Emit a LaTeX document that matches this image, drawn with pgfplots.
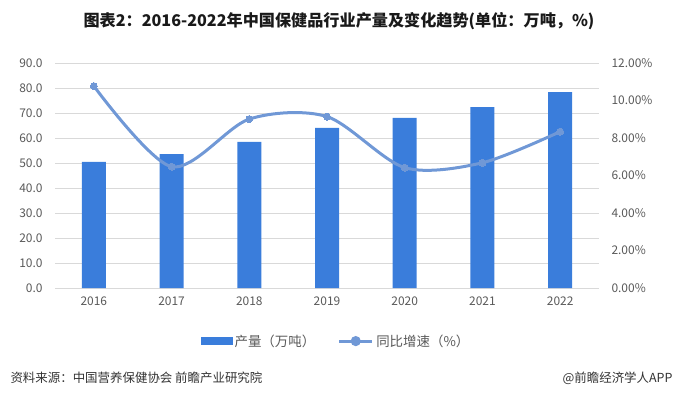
\documentclass[border=0pt]{standalone}
\usepackage{pgfplots}
\pgfplotsset{compat=1.18}
\usepackage{fontspec}
\setmainfont{Noto Sans CJK SC}
\definecolor{barblue}{RGB}{58,125,219}
\definecolor{lineblue}{RGB}{112,152,214}
\definecolor{tickgray}{RGB}{89,89,89}
\definecolor{gridgray}{RGB}{217,217,217}
\pgfplotsset{/pgf/number format/assume math mode=true}
\begin{document}
\begin{tikzpicture}[x=1bp,y=1bp]
\useasboundingbox (0,0) rectangle (676,396);
\node[font=\bfseries\fontsize{16.2}{18}\selectfont, text=black!90] at (339,375) {图表2：2016-2022年中国保健品行业产量及变化趋势(单位：万吨，\%)};
\begin{axis}[
  at={(55bp,108bp)}, anchor=south west, width=544bp, height=225bp, scale only axis,
  xmin=-0.5, xmax=6.5, ymin=0, ymax=90,
  xtick={0,1,2,3,4,5,6}, xticklabels={2016,2017,2018,2019,2020,2021,2022},
  ytick={0,10,20,30,40,50,60,70,80,90},
  ymajorgrids, grid style={gridgray, line width=0.8bp},
  axis line style={draw=none},
  major tick length=0,
  tick label style={font=\fontsize{12}{14}\selectfont, text=tickgray},
  yticklabel style={/pgf/number format/.cd, fixed, fixed zerofill, precision=1, /tikz/.cd, xshift=-9bp},
  xticklabel style={yshift=-5bp},
]
\addplot[ybar, bar width=24bp, fill=barblue, draw=none] coordinates {
(0,50.5) (1,53.6) (2,58.5) (3,64.1) (4,68.1) (5,72.4) (6,78.4)};
\end{axis}
\begin{axis}[
  at={(55bp,108bp)}, anchor=south west, width=544bp, height=225bp, scale only axis,
  xmin=-0.5, xmax=6.5, ymin=0, ymax=12,
  hide x axis, axis y line*=right, y axis line style={draw=none},
  major tick length=0,
  ytick={0,2,4,6,8,10,12},
  yticklabel={\pgfmathprintnumber[fixed,fixed zerofill,precision=2]{\tick}\%},
  tick label style={font=\fontsize{12}{14}\selectfont, text=tickgray},
  yticklabel style={xshift=9bp},
  legend columns=2,
  legend style={at={(0.517,-0.236)}, anchor=center, draw=none, fill=none,
    font=\fontsize{13.5}{15}\selectfont, text=tickgray,
    /tikz/every even column/.append style={column sep=20bp},
    nodes={inner xsep=2.5bp},
    inner sep=0pt},
]
\addlegendimage{legend image code/.code={\fill[barblue] (0bp,-3.5bp) rectangle (31bp,3.5bp);}}
\addlegendentry{产量（万吨）}
\addplot[smooth, tension=0.5, lineblue, line width=3bp, mark=*, mark size=3.5bp,
  mark options={fill=lineblue, draw=lineblue, line width=0pt},
  legend image code/.code={\draw[lineblue, line width=3bp] (0bp,0bp)--(33bp,0bp); \fill[lineblue] (16.5bp,0bp) circle (3.5bp);}]
 coordinates {(0,10.77) (1,6.47) (2,9.01) (3,9.14) (4,6.42) (5,6.68) (6,8.34)};
\addlegendentry{同比增速（\%）}
\end{axis}
\node[anchor=west, font=\fontsize{12.5}{14}\selectfont, text=black!80] at (7,18) {资料来源：中国营养保健协会 前瞻产业研究院};
\node[anchor=east, font=\fontsize{12.5}{14}\selectfont, text=black!80] at (676,18) {@前瞻经济学人APP};
\end{tikzpicture}
\end{document}
